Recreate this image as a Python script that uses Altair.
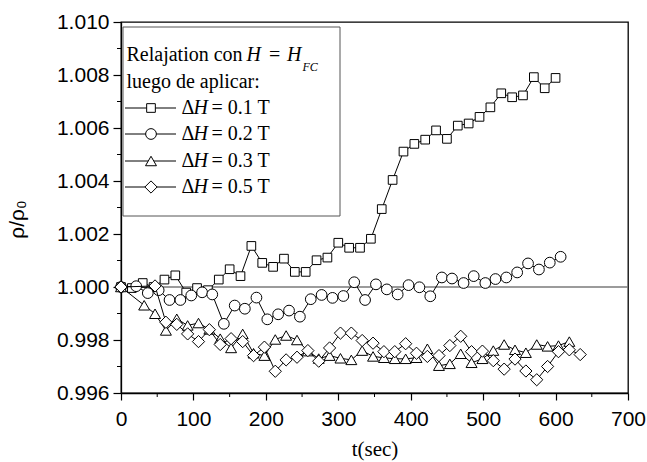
import altair as alt
import pandas as pd

# ---- data (rho/rho0 vs time) ----
sq_t = [0, 15, 30, 45, 60, 75, 90, 105, 120, 135, 150, 165, 180, 195, 210, 225, 240, 255, 270, 285,
        300, 315, 330, 345, 360, 375, 390, 405, 420, 435, 450, 465, 480, 495, 510, 525, 540, 555, 570, 585, 600]
sq_v = [1.00000, 0.99996, 1.00015, 1.00000, 1.00028, 1.00044, 0.99979, 0.99996, 0.99988, 1.00028,
        1.00067, 1.00041, 1.00155, 1.00091, 1.00076, 1.00107, 1.00057, 1.00057, 1.00101, 1.00111,
        1.00167, 1.00148, 1.00148, 1.00182, 1.00294, 1.00404, 1.00511, 1.00540, 1.00556, 1.00591,
        1.00559, 1.00609, 1.00617, 1.00642, 1.00678, 1.00731, 1.00716, 1.00723, 1.00792, 1.00750, 1.00789]

ci_t = [0, 21, 37, 52, 67, 82, 97, 112, 126, 142, 157, 171, 187, 202, 217, 232, 247, 262, 277, 292,
        307, 322, 337, 352, 367, 382, 397, 412, 427, 443, 457, 473, 487, 503, 517, 532, 547, 562, 577, 592, 607]
ci_v = [1.00000, 1.00003, 0.99977, 0.99988, 0.99951, 0.99951, 0.99968, 0.99980, 0.99972, 0.99861,
        0.99930, 0.99918, 0.99960, 0.99878, 0.99897, 0.99911, 0.99888, 0.99954, 0.99970, 0.99959,
        0.99966, 1.00018, 0.99951, 1.00010, 0.99991, 0.99972, 1.00007, 0.99999, 0.99965, 1.00036,
        1.00032, 1.00015, 1.00041, 1.00015, 1.00030, 1.00036, 1.00055, 1.00089, 1.00066, 1.00092, 1.00114]

tr_t = [0, 32, 47, 62, 77, 92, 107, 122, 137, 152, 168, 183, 198, 213, 228, 243, 258, 273, 288, 303,
        318, 333, 348, 363, 378, 393, 408, 423, 439, 454, 469, 484, 499, 514, 529, 544, 559, 574, 589, 604, 619]
tr_v = [1.00000, 0.99931, 0.99899, 0.99836, 0.99880, 0.99855, 0.99864, 0.99840, 0.99805, 0.99770,
        0.99823, 0.99750, 0.99741, 0.99802, 0.99817, 0.99800, 0.99758, 0.99730, 0.99741, 0.99731,
        0.99725, 0.99760, 0.99738, 0.99733, 0.99729, 0.99729, 0.99733, 0.99767, 0.99703, 0.99710,
        0.99748, 0.99714, 0.99729, 0.99760, 0.99783, 0.99763, 0.99752, 0.99783, 0.99776, 0.99779, 0.99794]

di_t = [0, 47, 62, 77, 92, 107, 122, 137, 152, 168, 183, 198, 213, 228, 243, 258, 273, 288, 303, 318,
        333, 348, 363, 378, 393, 408, 423, 439, 454, 469, 484, 499, 514, 529, 544, 559, 574, 589, 604, 619, 634]
di_v = [1.00000, 1.00004, 0.99867, 0.99859, 0.99823, 0.99794, 0.99839, 0.99783, 0.99805, 0.99794,
        0.99741, 0.99773, 0.99682, 0.99725, 0.99735, 0.99760, 0.99720, 0.99770, 0.99826, 0.99826,
        0.99798, 0.99788, 0.99756, 0.99756, 0.99786, 0.99750, 0.99738, 0.99741, 0.99779, 0.99814,
        0.99756, 0.99758, 0.99722, 0.99690, 0.99728, 0.99683, 0.99650, 0.99700, 0.99756, 0.99763, 0.99745]

legend_values = ["0.1", "0.2", "0.3", "0.5"]
x_ticks = [0, 100, 200, 300, 400, 500, 600, 700]
x_minor = [50, 150, 250, 350, 450, 550, 650]
y_ticks = [0.996, 0.998, 1.000, 1.002, 1.004, 1.006, 1.008, 1.010]
y_minor = [0.997, 0.999, 1.001, 1.003, 1.005, 1.007, 1.009]

W, H = 507, 371
SERIF = "Liberation Serif"
SANS = "Liberation Sans"

xs = alt.Scale(domain=[0, 700], nice=False, zero=False)
ys = alt.Scale(domain=[0.996, 1.010], nice=False, zero=False)

xaxis = alt.Axis(values=x_ticks, format="d", title="t(sec)", titleFont=SERIF, titleFontSize=21,
                 titleFontWeight="normal", titleX=253.5, titleY=56, titleBaseline="middle",
                 labelPadding=8, tickSize=7, labelFlush=False)
yaxis = alt.Axis(values=y_ticks, format=".3f", title="ρ/ρ₀", titleFont=SANS, titleFontSize=21,
                 titleFontWeight="normal", titleX=-104, titleY=197, titleAngle=270,
                 titleAlign="center", titleBaseline="middle", labelPadding=4, tickSize=8,
                 labelFlush=False)

layers = []

# reference line at 1.000
layers.append(alt.Chart(pd.DataFrame({"v": [1.0]})).mark_rule(color="#7a7a7a", strokeWidth=1.5)
              .encode(y=alt.Y("v:Q", scale=ys, axis=yaxis)))

series = [
    (sq_t, sq_v, "square", 75),
    (ci_t, ci_v, "circle", 115),
    (tr_t, tr_v, "triangle-up", 120),
    (di_t, di_v, "diamond", 150),
]
for t, v, shape, size in series:
    d = pd.DataFrame({"t": t, "v": v})
    base = alt.Chart(d).encode(x=alt.X("t:Q", scale=xs, axis=xaxis), y=alt.Y("v:Q", scale=ys, axis=yaxis))
    layers.append(base.mark_line(color="black", strokeWidth=1))
    layers.append(base.mark_point(shape=shape, size=size, fill="white", stroke="black",
                                  strokeWidth=1, opacity=1, fillOpacity=1))

# minor ticks
layers.append(alt.Chart(pd.DataFrame({"t": x_minor})).mark_rule(color="black", strokeWidth=1)
              .encode(x=alt.X("t:Q", scale=xs, axis=xaxis), y=alt.value(H), y2=alt.value(H + 4)))
layers.append(alt.Chart(pd.DataFrame({"v": y_minor})).mark_rule(color="black", strokeWidth=1)
              .encode(y=alt.Y("v:Q", scale=ys, axis=yaxis), x=alt.value(-4), x2=alt.value(0)))

# custom legend box
one = pd.DataFrame({"a": [0]})
layers.append(alt.Chart(one).mark_rect(fill="white", stroke="#555555", strokeWidth=1)
              .encode(x=alt.value(2), x2=alt.value(219), y=alt.value(5), y2=alt.value(194)))


def txt(s, x, y, size=20, style="normal", font=SERIF):
    return alt.Chart(one).mark_text(align="left", baseline="middle", font=font, fontSize=size,
                                    fontStyle=style, color="black").encode(
        x=alt.value(x), y=alt.value(y), text=alt.value(s))


layers.append(txt("Relajation con", 5.5, 33))
layers.append(txt("H", 125.5, 33, style="italic"))
layers.append(txt("=", 148, 33))
layers.append(txt("H", 166, 33, style="italic"))
layers.append(txt("FC", 181.5, 45, size=12, style="italic"))
layers.append(txt("luego de aplicar:", 5.5, 60))

rows = [86, 112, 139, 165]
for (t, v, shape, size), lab, ry in zip(series, legend_values, rows):
    layers.append(alt.Chart(one).mark_rule(color="black", strokeWidth=1)
                  .encode(x=alt.value(4), x2=alt.value(55), y=alt.value(ry)))
    layers.append(alt.Chart(one).mark_point(shape=shape, size=size, fill="white", stroke="black",
                                            strokeWidth=1, opacity=1, fillOpacity=1)
                  .encode(x=alt.value(30), y=alt.value(ry)))
    layers.append(txt("Δ", 60.5, ry))
    layers.append(txt("H", 72.5, ry, style="italic"))
    layers.append(txt("= " + lab + " T", 90.5, ry))

chart = alt.layer(*layers).properties(
    width=W, height=H,
    autosize=alt.AutoSizeParams(type="none"),
    padding={"left": 121, "top": 22, "right": 19, "bottom": 69},
    background="white",
).configure_view(stroke="black", strokeWidth=1.3).configure_axis(
    grid=False, domainColor="black", domainWidth=1.3, tickColor="black", tickWidth=1.2,
    labelFont=SANS, labelFontSize=21, labelColor="black", titleColor="black",
).configure_axisX(titleFont=SERIF, titleFontSize=21, titleFontWeight="normal")

chart.save("out.html", embed_options={"renderer": "svg", "actions": False})
